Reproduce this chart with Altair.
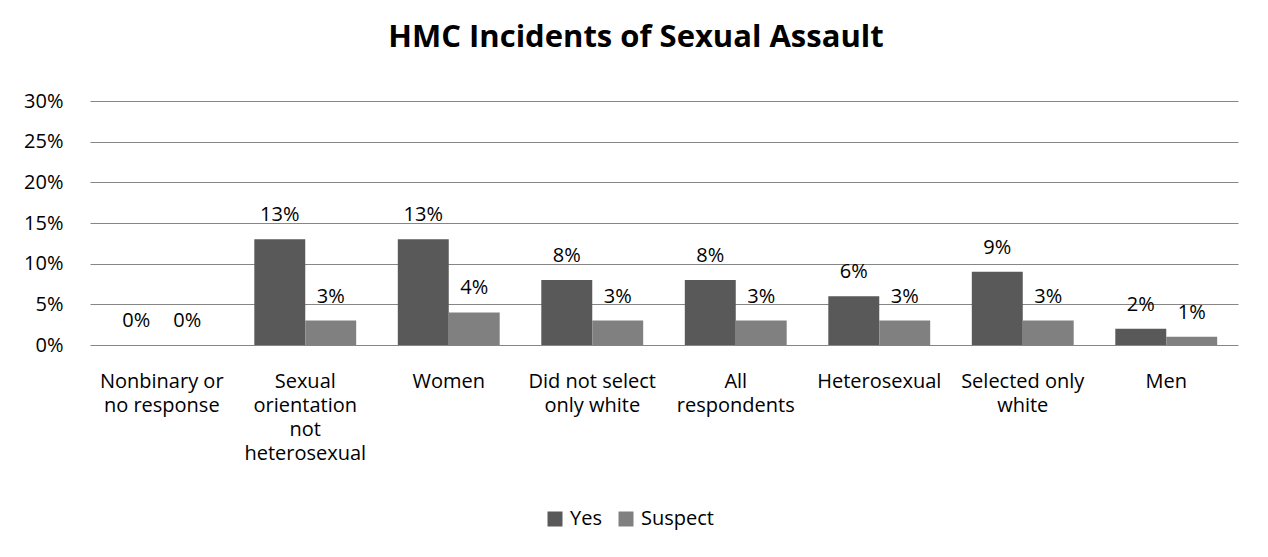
import altair as alt
import pandas as pd

categories = [
    "Nonbinary or\nno response",
    "Sexual\norientation\nnot\nheterosexual",
    "Women",
    "Did not select\nonly white",
    "All\nrespondents",
    "Heterosexual",
    "Selected only\nwhite",
    "Men",
]
yes_values = [0.00, 0.13, 0.13, 0.08, 0.08, 0.06, 0.09, 0.02]
suspect_values = [0.00, 0.03, 0.04, 0.03, 0.03, 0.03, 0.03, 0.01]
series = ["Yes", "Suspect"]
colors = ["#595959", "#808080"]

rows = []
for c, y, s in zip(categories, yes_values, suspect_values):
    rows.append({"category": c, "series": "Yes", "value": y})
    rows.append({"category": c, "series": "Suspect", "value": s})
df = pd.DataFrame(rows)

FONT = "Open Sans"
FS = 20

x_enc = alt.X(
    "category:N",
    sort=categories,
    title=None,
    scale=alt.Scale(paddingInner=0.29, paddingOuter=0.145),
    axis=alt.Axis(
        labelExpr="split(datum.label, '\\n')",
        labelAngle=0,
        labelFontSize=FS,
        labelLineHeight=24,
        labelColor="#000000",
        labelFont=FONT,
        labelPadding=26,
        ticks=False,
        domain=False,
        grid=False,
        labelLimit=200,
    ),
)
y_enc = alt.Y(
    "value:Q",
    title=None,
    scale=alt.Scale(domain=[0, 0.30]),
    axis=alt.Axis(
        format=".0%",
        values=[0, 0.05, 0.10, 0.15, 0.20, 0.25, 0.30],
        labelFontSize=FS,
        labelColor="#000000",
        labelFont=FONT,
        labelPadding=27,
        ticks=False,
        domain=False,
        grid=True,
        gridColor="#868686",
        gridWidth=1,
    ),
)
xoff = alt.XOffset("series:N", sort=series, scale=alt.Scale(paddingInner=0, paddingOuter=0))

bars = alt.Chart(df).mark_bar().encode(
    x=x_enc,
    y=y_enc,
    xOffset=xoff,
    color=alt.Color(
        "series:N",
        sort=series,
        scale=alt.Scale(domain=series, range=colors),
        legend=alt.Legend(
            title=None,
            orient="none",
            legendX=455,
            legendY=408,
            direction="horizontal",
            symbolType="square",
            symbolSize=225,
            symbolStrokeWidth=0,
            labelFontSize=FS,
            labelFont=FONT,
            labelColor="#000000",
            columnPadding=14,
            labelOffset=5,
        ),
    ),
)

labels = alt.Chart(df).mark_text(
    baseline="alphabetic", dy=-18, fontSize=FS, font=FONT, color="#000000"
).encode(
    x=alt.X("category:N", sort=categories),
    y=alt.Y("value:Q"),
    xOffset=alt.XOffset("series:N", sort=series),
    text=alt.Text("value:Q", format=".0%"),
)

chart = (
    alt.layer(bars, labels)
    .properties(
        width=1148,
        height=244,
        background="#ffffff",
        title=alt.TitleParams(
            "HMC Incidents of Sexual Assault",
            fontSize=31,
            fontWeight="bold",
            font=FONT,
            color="#000000",
            anchor="middle",
            dx=-28,
            offset=37,
        ),
        autosize=alt.AutoSizeParams(type="none"),
        padding={"left": 82, "top": 93, "right": 22, "bottom": 190},
    )
    .configure_view(strokeWidth=0, stroke="transparent")
)

chart.save("out.html", embed_options={"renderer": "svg", "actions": False})
